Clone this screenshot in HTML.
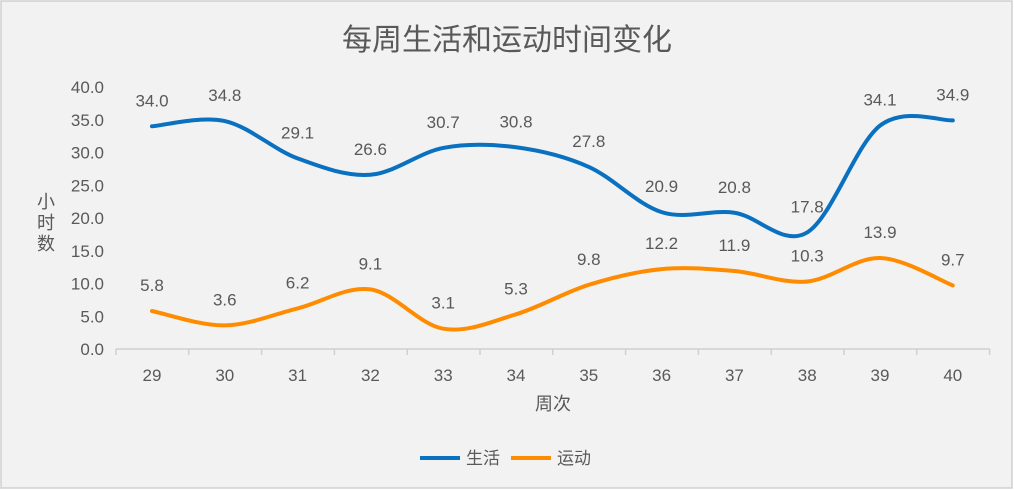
<!DOCTYPE html>
<html><head><meta charset="utf-8"><style>
html,body{margin:0;padding:0;background:#fff}
svg{display:block;font-family:"Liberation Sans","Noto Sans CJK SC",sans-serif}
</style></head><body>
<svg id="s" width="1014" height="490" xmlns="http://www.w3.org/2000/svg">
<rect x="1" y="1" width="1011" height="487" fill="#f2f2f2" stroke="#d0d0d0" stroke-width="1.5"/>
<text x="507" y="50" font-size="30" fill="#595959" text-anchor="middle">每周生活和运动时间变化</text>
<g id="g" font-size="17" fill="#595959"></g>
<text x="46" y="208" font-size="18" fill="#595959" text-anchor="middle">小</text>
<text x="46" y="229" font-size="18" fill="#595959" text-anchor="middle">时</text>
<text x="46" y="250" font-size="18" fill="#595959" text-anchor="middle">数</text>
<text x="553" y="410" font-size="18" fill="#595959" text-anchor="middle">周次</text>
<line x1="420" y1="458" x2="460" y2="458" stroke="#0a70c0" stroke-width="4"/>
<text x="466" y="464" font-size="17" fill="#595959">生活</text>
<line x1="511" y1="458" x2="551" y2="458" stroke="#ff8c00" stroke-width="4"/>
<text x="557" y="464" font-size="17" fill="#595959">运动</text>
</svg>
<script>
var g=document.getElementById('g'),h='';
function Y(v){return 349-v*6.55}function X(i){return 152+i*72.8}
for(var k=0;k<=8;k++){h+='<text x="104" y="'+(Y(k*5)+6)+'" text-anchor="end">'+(k*5).toFixed(1)+'</text>';}
h+='<line x1="116" y1="349" x2="990" y2="349" stroke="#d0d0d0" stroke-width="1.5"/>';
for(var i=0;i<=12;i++){var tx=116+i*72.8;h+='<line x1="'+tx+'" y1="349" x2="'+tx+'" y2="355" stroke="#d0d0d0" stroke-width="1.5"/>';}
for(var i=0;i<12;i++)h+='<text x="'+X(i)+'" y="381" text-anchor="middle">'+(29+i)+'</text>';
function path(d,c){var p=d.map(function(v,i){return[X(i),Y(v)]});var s='M'+p[0];
for(var i=0;i<p.length-1;i++){var a=p[i-1]||p[i],b=p[i],n=p[i+1],m=p[i+2]||n;
s+=' C'+(b[0]+(n[0]-a[0])/6)+','+(b[1]+(n[1]-a[1])/6)+' '+(n[0]-(m[0]-b[0])/6)+','+(n[1]-(m[1]-b[1])/6)+' '+n;}
h+='<path d="'+s+'" fill="none" stroke="'+c+'" stroke-width="4" stroke-linecap="round"/>';
d.forEach(function(v,i){h+='<text x="'+X(i)+'" y="'+(Y(v)-20)+'" text-anchor="middle">'+v.toFixed(1)+'</text>';});}
path([34.0,34.8,29.1,26.6,30.7,30.8,27.8,20.9,20.8,17.8,34.1,34.9],'#0a70c0');
path([5.8,3.6,6.2,9.1,3.1,5.3,9.8,12.2,11.9,10.3,13.9,9.7],'#ff8c00');
g.innerHTML=h;
</script>
</body></html>
